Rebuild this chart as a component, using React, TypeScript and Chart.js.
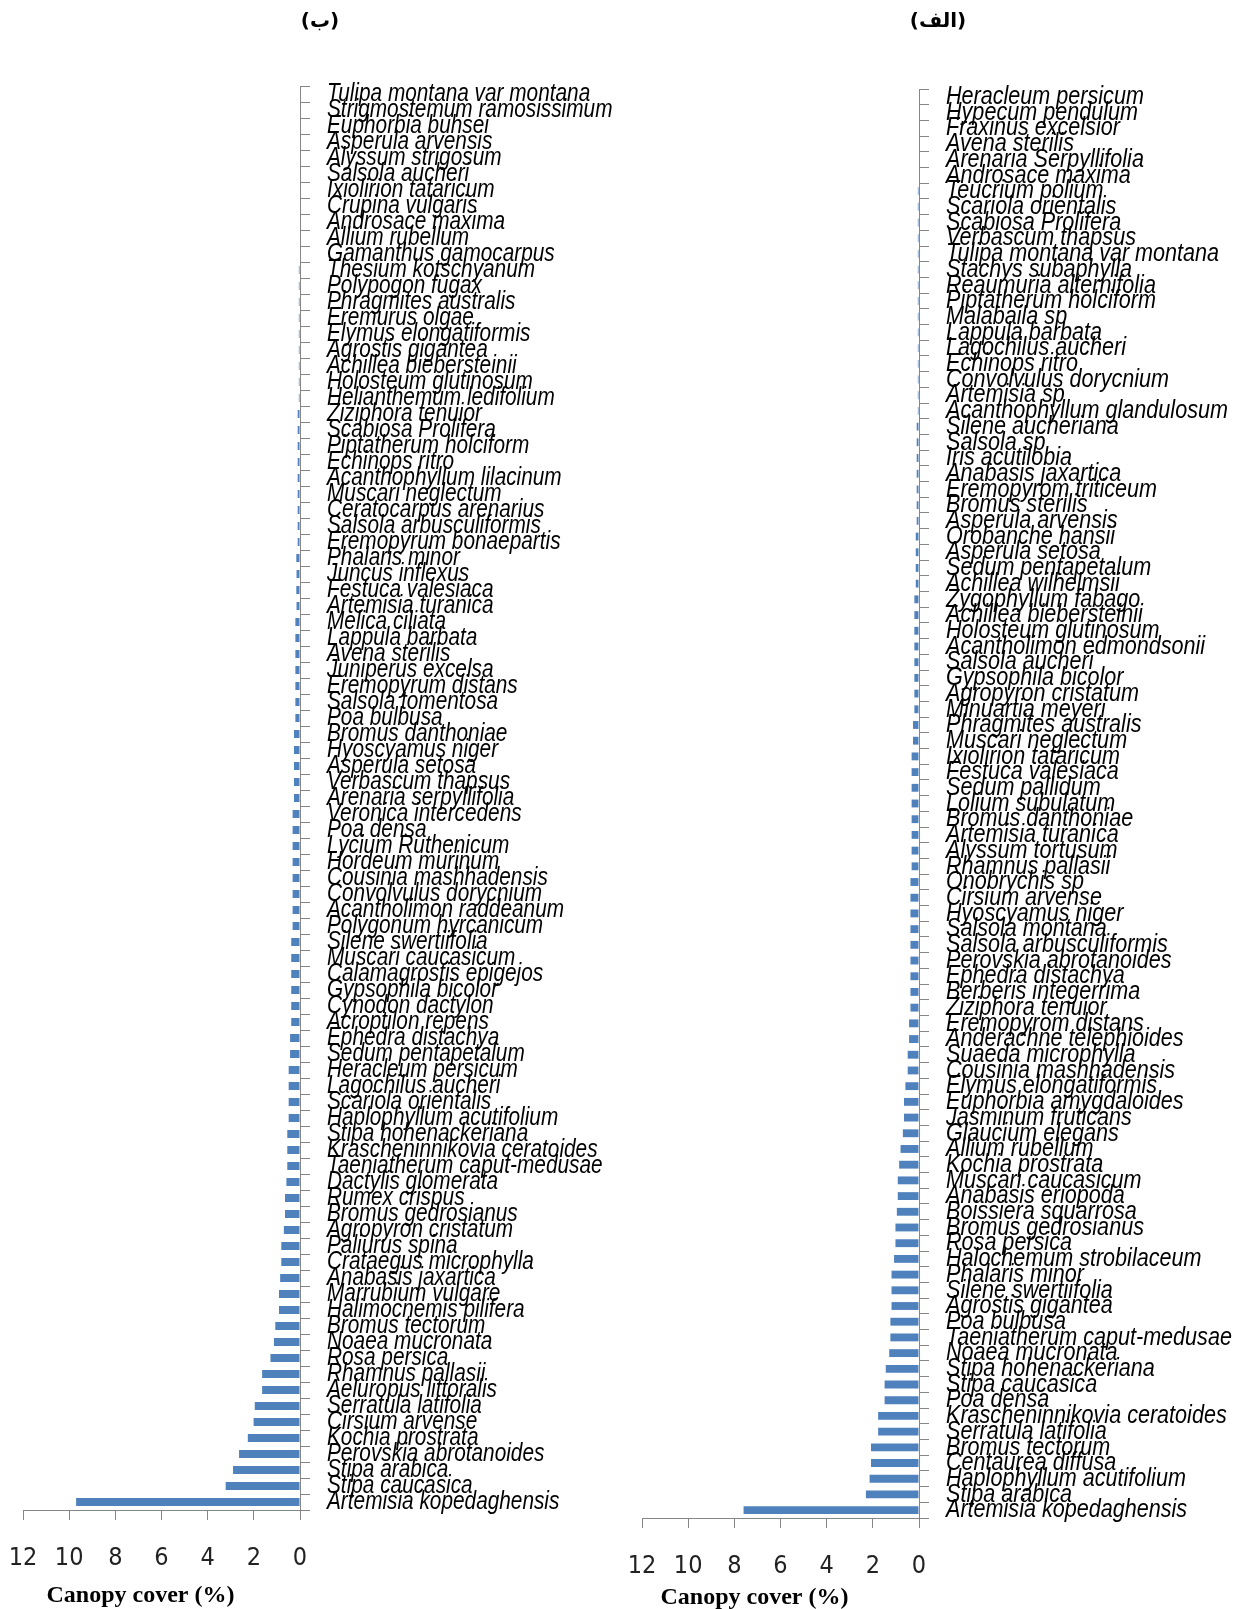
import React, { useEffect, useRef } from "react";
import { Chart, registerables, CategoryScale } from "chart.js";

Chart.register(...registerables);

// Category axis whose tick labels are drawn horizontally condensed (Arial Narrow look)
class NarrowCategoryScale extends (CategoryScale as any) {
  static id = "narrowCategory";
  static defaults = (CategoryScale as any).defaults;
  drawLabels(chartArea: any) {
    const self: any = this;
    const ctx = self.ctx;
    const opts: any = self.options;
    const x0 = self.left + opts.grid.tickLength + opts.ticks.padding;
    const sx = opts.labelScaleX ?? 1;
    const savedRight = self.right;
    // widen the label clip box so that, once condensed, it still reaches the scale's right edge
    self.right = x0 + (savedRight - x0) / sx;
    ctx.save();
    ctx.translate(x0, 0);
    ctx.scale(sx, 1);
    ctx.translate(-x0, 0);
    super.drawLabels(chartArea);
    ctx.restore();
    self.right = savedRight;
  }
}
Chart.register(NarrowCategoryScale as any);

const leftTitle = "(ب)";
const rightTitle = "(الف)";
const axisTitle = "Canopy cover (%)";
const xTickValues = [0, 2, 4, 6, 8, 10, 12];

const leftLabels = [
  "Tulipa montana var montana",
  "Strigmostemum ramosissimum",
  "Euphorbia buhsei",
  "Asperula arvensis",
  "Alyssum strigosum",
  "Salsola aucheri",
  "Ixiolirion tataricum",
  "Crupina vulgaris",
  "Androsace maxima",
  "Allium rubellum",
  "Gamanthus gamocarpus",
  "Thesium kotschyanum",
  "Polypogon fugax",
  "Phragmites australis",
  "Eremurus olgae",
  "Elymus elongatiformis",
  "Agrostis gigantea",
  "Achillea biebersteinii",
  "Holosteum glutinosum",
  "Helianthemum ledifolium",
  "Ziziphora tenuior",
  "Scabiosa Prolifera",
  "Piptatherum holciform",
  "Echinops ritro",
  "Acanthophyllum lilacinum",
  "Muscari neglectum",
  "Ceratocarpus arenarius",
  "Salsola arbusculiformis",
  "Eremopyrum bonaepartis",
  "Phalaris minor",
  "Juncus inflexus",
  "Festuca valesiaca",
  "Artemisia turanica",
  "Melica ciliata",
  "Lappula barbata",
  "Avena sterilis",
  "Juniperus excelsa",
  "Eremopyrum distans",
  "Salsola tomentosa",
  "Poa bulbusa",
  "Bromus danthoniae",
  "Hyoscyamus niger",
  "Asperula setosa",
  "Verbascum thapsus",
  "Arenaria serpyllifolia",
  "Veronica intercedens",
  "Poa densa",
  "Lycium Ruthenicum",
  "Hordeum murinum",
  "Cousinia mashhadensis",
  "Convolvulus dorycnium",
  "Acantholimon raddeanum",
  "Polygonum hyrcanicum",
  "Silene swertiifolia",
  "Muscari caucasicum",
  "Calamagrostis epigejos",
  "Gypsophila bicolor",
  "Cynodon dactylon",
  "Acroptilon repens",
  "Ephedra distachya",
  "Sedum pentapetalum",
  "Heracleum persicum",
  "Lagochilus aucheri",
  "Scariola orientalis",
  "Haplophyllum acutifolium",
  "Stipa hohenackeriana",
  "Krascheninnikovia ceratoides",
  "Taeniatherum caput-medusae",
  "Dactylis glomerata",
  "Rumex crispus",
  "Bromus gedrosianus",
  "Agropyron cristatum",
  "Paliurus spina",
  "Crataegus microphylla",
  "Anabasis jaxartica",
  "Marrubium vulgare",
  "Halimocnemis pilifera",
  "Bromus tectorum",
  "Noaea mucronata",
  "Rosa persica",
  "Rhamnus pallasii",
  "Aeluropus littoralis",
  "Serratula latifolia",
  "Cirsium arvense",
  "Kochia prostrata",
  "Perovskia abrotanoides",
  "Stipa arabica",
  "Stipa caucasica",
  "Artemisia kopedaghensis",
];

const leftValues = [
  0, 0, 0, 0, 0, 0, 0, 0, 0, 0, 0,
  0.05, 0.05, 0.05, 0.05, 0.05, 0.05, 0.05, 0.05, 0.05,
  0.1, 0.1, 0.1, 0.1, 0.1, 0.1, 0.1, 0.1, 0.1,
  0.16, 0.15, 0.16, 0.15,
  0.2, 0.2, 0.2, 0.2, 0.2, 0.2, 0.2,
  0.26, 0.26, 0.26, 0.26, 0.26,
  0.32, 0.32, 0.32, 0.32, 0.32, 0.32, 0.32, 0.32,
  0.38, 0.38, 0.38, 0.38, 0.38, 0.38,
  0.43, 0.43,
  0.49, 0.49, 0.49, 0.49,
  0.55, 0.55, 0.55,
  0.59,
  0.65, 0.65,
  0.7,
  0.81, 0.81,
  0.86,
  0.91, 0.91,
  1.07,
  1.13,
  1.28,
  1.64, 1.64,
  1.96,
  2.01,
  2.26,
  2.64,
  2.9,
  3.22,
  9.7,
];

const rightLabels = [
  "Heracleum persicum",
  "Hypecum pendulum",
  "Fraxinus excelsior",
  "Avena sterilis",
  "Arenaria Serpyllifolia",
  "Androsace maxima",
  "Teucrium polium",
  "Scariola orientalis",
  "Scabiosa Prolifera",
  "Verbascum thapsus",
  "Tulipa montana var montana",
  "Stachys subaphylla",
  "Reaumuria alternifolia",
  "Piptatherum holciform",
  "Malabaila sp",
  "Lappula barbata",
  "Lagochilus aucheri",
  "Echinops ritro",
  "Convolvulus dorycnium",
  "Artemisia sp",
  "Acanthophyllum glandulosum",
  "Silene aucheriana",
  "Salsola sp",
  "Iris acutilobia",
  "Anabasis jaxartica",
  "Eremopyrom triticeum",
  "Bromus sterilis",
  "Asperula arvensis",
  "Orobanche hansii",
  "Asperula setosa",
  "Sedum pentapetalum",
  "Achillea wilhelmsii",
  "Zygophyllum fabago",
  "Achillea biebersteinii",
  "Holosteum glutinosum",
  "Acantholimon edmondsonii",
  "Salsola aucheri",
  "Gypsophila bicolor",
  "Agropyron cristatum",
  "Minuartia meyeri",
  "Phragmites australis",
  "Muscari neglectum",
  "Ixiolirion tataricum",
  "Festuca valesiaca",
  "Sedum pallidum",
  "Lolium subulatum",
  "Bromus danthoniae",
  "Artemisia turanica",
  "Alyssum tortusum",
  "Rhamnus pallasii",
  "Onobrychis sp",
  "Cirsium arvense",
  "Hyoscyamus niger",
  "Salsola montana",
  "Salsola arbusculiformis",
  "Perovskia abrotanoides",
  "Ephedra distachya",
  "Berberis integerrima",
  "Ziziphora tenuior",
  "Eremopyrom distans",
  "Anderachne telephioides",
  "Suaeda microphylla",
  "Cousinia mashhadensis",
  "Elymus elongatiformis",
  "Euphorbia amygdaloides",
  "Jasminum fruticans",
  "Glaucium elegans",
  "Allium rubellum",
  "Kochia prostrata",
  "Muscari caucasicum",
  "Anabasis eriopoda",
  "Boissiera squarrosa",
  "Bromus gedrosianus",
  "Rosa persica",
  "Halochemum strobilaceum",
  "Phalaris minor",
  "Silene swertiifolia",
  "Agrostis gigantea",
  "Poa bulbusa",
  "Taeniatherum caput-medusae",
  "Noaea mucronata",
  "Stipa hohenackeriana",
  "Stipa caucasica",
  "Poa densa",
  "Krascheninnikovia ceratoides",
  "Serratula latifolia",
  "Bromus tectorum",
  "Centaurea diffusa",
  "Haplophyllum acutifolium",
  "Stipa arabica",
  "Artemisia kopedaghensis",
];

const rightValues = [
  0, 0, 0, 0, 0, 0,
  0.05, 0.05, 0.05, 0.05, 0.05, 0.05, 0.05, 0.05, 0.05, 0.05, 0.05, 0.05, 0.05, 0.05, 0.05,
  0.1, 0.1, 0.1, 0.1, 0.1, 0.1, 0.1,
  0.14, 0.14, 0.14, 0.14,
  0.2, 0.2, 0.2, 0.2, 0.2, 0.2, 0.2, 0.2,
  0.26, 0.26,
  0.32, 0.32, 0.32, 0.32, 0.32, 0.32, 0.32, 0.32,
  0.37, 0.37, 0.37, 0.37, 0.37, 0.37, 0.37, 0.37, 0.37,
  0.43, 0.43,
  0.49, 0.49,
  0.59,
  0.65, 0.65,
  0.7,
  0.8,
  0.86,
  0.92, 0.92,
  0.96,
  1.02, 1.02,
  1.08,
  1.19, 1.19, 1.19,
  1.24, 1.24,
  1.29,
  1.44,
  1.49, 1.49,
  1.77, 1.77,
  2.08, 2.08,
  2.14,
  2.3,
  7.6,
];

const LABEL_FONT = "'Liberation Sans', Arial, sans-serif";
const NUM_FONT = "'DejaVu Sans Condensed', 'Liberation Sans', sans-serif";
const AXIS_GRAY = "#868686";
const BAR_BLUE = "#4f81bd";

const axisTitlePlugin = {
  id: "axisTitleText",
  afterDraw(chart: any, _args: any, opts: any) {
    const { ctx, chartArea } = chart;
    ctx.save();
    ctx.font = "bold 24px 'Liberation Serif', 'Times New Roman', serif";
    ctx.fillStyle = "#000";
    ctx.textAlign = "center";
    ctx.textBaseline = "middle";
    ctx.fillText(
      opts.text,
      (chartArea.left + chartArea.right) / 2 + opts.dx,
      chart.height - opts.fromBottom
    );
    ctx.restore();
  },
};

type Layout = {
  title: string;
  padLeft: number;
  titleBottom: number;
  xHeight: number;
  yWidth: number;
  titleDx: number;
  titleFromBottom: number;
  labelScaleX: number;
};

function makeConfig(labels: string[], values: number[], p: Layout): any {
  return {
    type: "bar",
    data: {
      labels,
      datasets: [
        {
          data: values,
          backgroundColor: BAR_BLUE,
          borderWidth: 0,
          barPercentage: 0.5,
          categoryPercentage: 1,
        },
      ],
    },
    plugins: [axisTitlePlugin],
    options: {
      indexAxis: "y",
      animation: false,
      responsive: false,
      maintainAspectRatio: false,
      devicePixelRatio: 1,
      layout: { padding: { left: p.padLeft, right: 0, top: 0, bottom: 0 } },
      plugins: {
        legend: { display: false },
        tooltip: { enabled: false },
        title: {
          display: true,
          text: p.title,
          color: "#000",
          font: { family: "'DejaVu Sans', sans-serif", size: 20, weight: "bold", lineHeight: 1.2 },
          padding: { top: 10, bottom: p.titleBottom },
        },
        axisTitleText: { text: axisTitle, dx: p.titleDx, fromBottom: p.titleFromBottom },
      },
      scales: {
        x: {
          type: "linear",
          position: "bottom",
          reverse: true,
          min: 0,
          max: 12,
          afterBuildTicks: (s: any) => {
            s.ticks = xTickValues.map((v) => ({ value: v }));
          },
          ticks: {
            color: "#222",
            font: { family: NUM_FONT, size: 25 },
            padding: 23,
            maxRotation: 0,
          },
          grid: { drawOnChartArea: false, drawTicks: true, tickLength: 10, color: AXIS_GRAY },
          border: { color: AXIS_GRAY, width: 1 },
          afterFit: (s: any) => {
            s.height = p.xHeight;
          },
        },
        y: {
          type: "narrowCategory",
          position: "right",
          labelScaleX: p.labelScaleX,
          ticks: {
            autoSkip: false,
            color: "#000",
            font: { family: LABEL_FONT, size: 26, style: "italic" },
            padding: 17,
          },
          grid: { drawOnChartArea: false, offset: true, tickLength: 10, color: AXIS_GRAY },
          border: { color: AXIS_GRAY, width: 1 },
          afterFit: (s: any) => {
            s.width = p.yWidth;
          },
        },
      },
    },
  };
}

function BarPanel(props: {
  labels: string[];
  values: number[];
  layout: Layout;
  left: number;
  width: number;
}) {
  const ref = useRef<HTMLCanvasElement | null>(null);
  useEffect(() => {
    if (!ref.current) return;
    const chart = new Chart(ref.current, makeConfig(props.labels, props.values, props.layout));
    return () => chart.destroy();
  }, []);
  return (
    <canvas
      ref={ref}
      width={props.width}
      height={1609}
      style={{
        position: "absolute",
        left: props.left,
        top: 0,
        width: props.width,
        height: 1609,
      }}
    />
  );
}

export default function App() {
  return (
    <div
      style={{
        position: "absolute",
        left: 0,
        top: 0,
        width: 1234,
        height: 1609,
        background: "#fff",
        overflow: "hidden",
      }}
    >
      <BarPanel
        labels={leftLabels}
        values={leftValues}
        left={0}
        width={617}
        layout={{
          title: leftTitle,
          padLeft: 23,
          titleBottom: 52,
          xHeight: 99,
          yWidth: 317,
          titleDx: -21,
          titleFromBottom: 13,
          labelScaleX: 0.8,
        }}
      />
      <BarPanel
        labels={rightLabels}
        values={rightValues}
        left={627}
        width={607}
        layout={{
          title: rightTitle,
          padLeft: 15,
          titleBottom: 55,
          xHeight: 91,
          yWidth: 315,
          titleDx: -26,
          titleFromBottom: 11,
          labelScaleX: 0.83,
        }}
      />
    </div>
  );
}
